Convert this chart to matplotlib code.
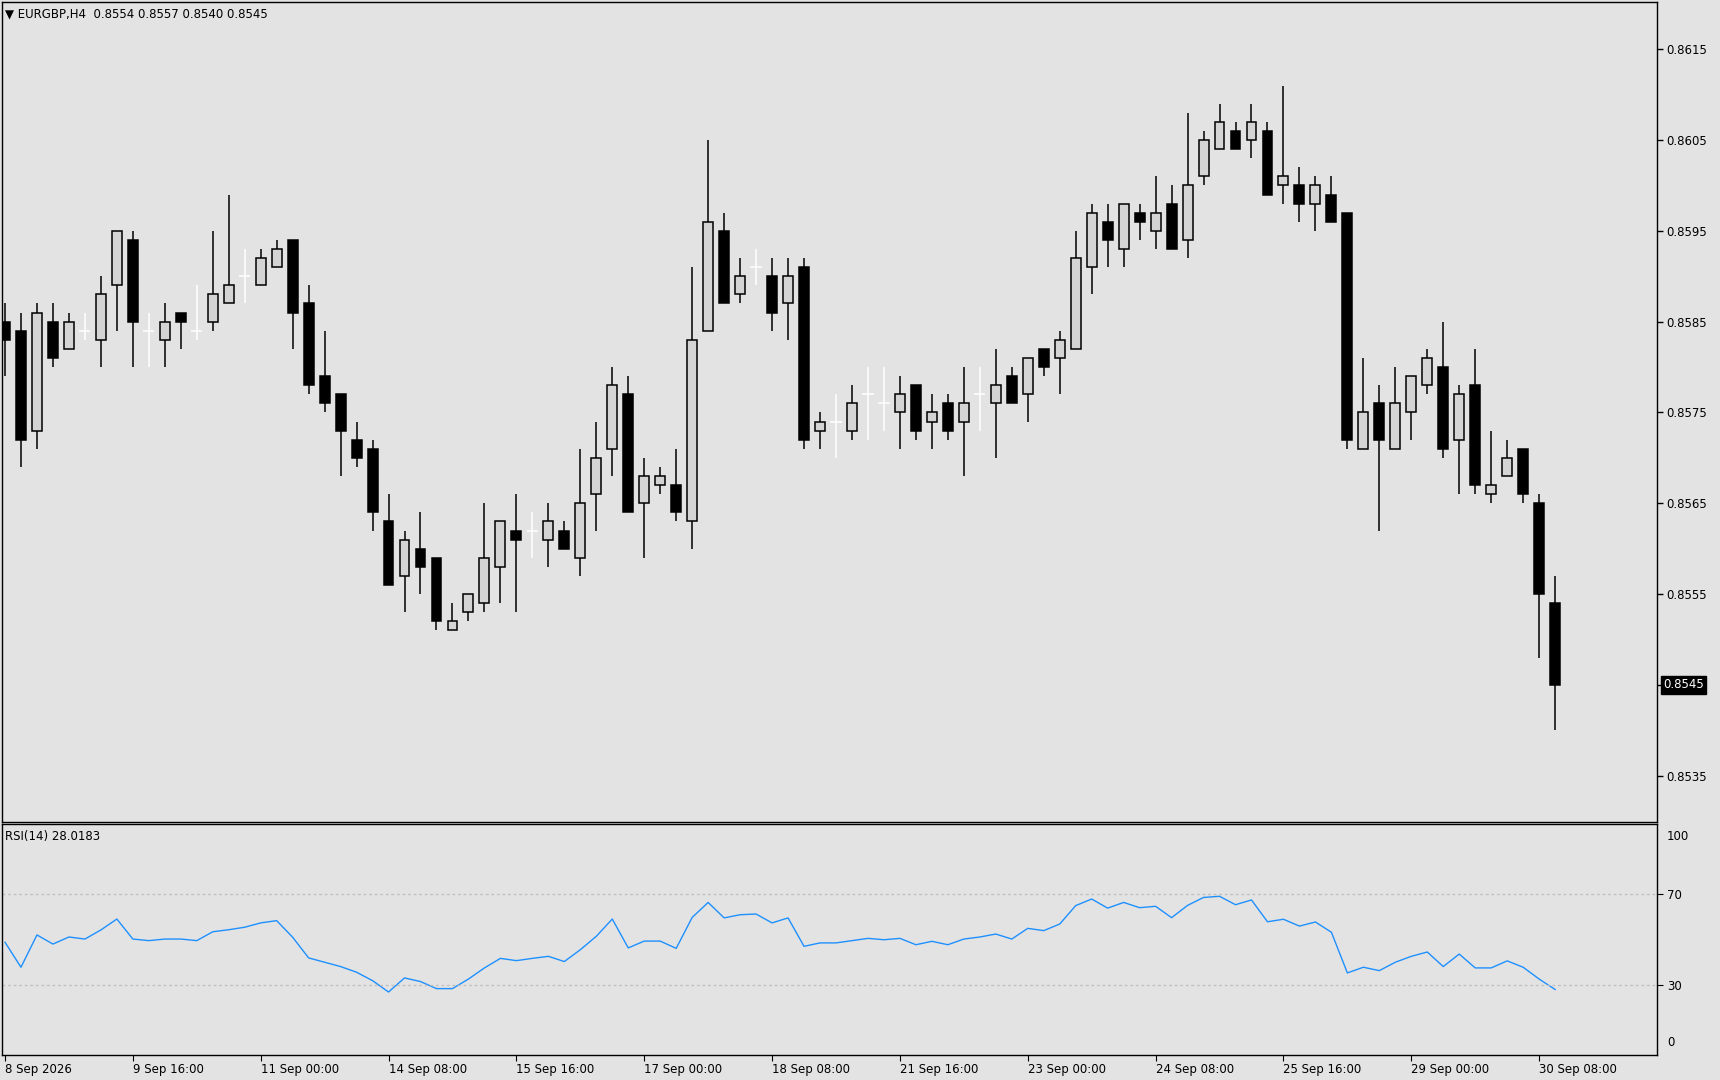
import matplotlib
matplotlib.use("Agg")
import matplotlib.pyplot as plt
import numpy as np

plt.rcParams['font.family'] = ['DejaVu Sans']

# OHLC in pips (0.0001) : value/10000
opens = [8585,8584,8573,8585,8582,8584,8583,8589,8594,8584,8583,8586,8584,8585,8587,8590,8589,8591,8594,8587,
         8579,8577,8572,8571,8563,8557,8560,8559,8551,8553,8554,8558,8562,8562,8561,8562,8559,8566,8571,8577,
         8565,8567,8567,8563,8584,8595,8588,8591,8590,8587,8591,8573,8574,8573,8577,8576,8575,8578,8574,8576,
         8574,8577,8576,8579,8577,8582,8581,8582,8591,8596,8593,8597,8595,8598,8594,8601,8604,8606,8605,8606,
         8600,8600,8598,8599,8597,8571,8576,8571,8575,8578,8580,8572,8578,8566,8568,8571,8565,8554]
highs = [8587,8586,8587,8587,8586,8586,8590,8595,8595,8586,8587,8586,8589,8595,8599,8593,8593,8594,8594,8589,
         8584,8577,8574,8572,8566,8562,8564,8559,8554,8555,8565,8563,8566,8564,8565,8563,8571,8574,8580,8579,
         8570,8569,8571,8591,8605,8597,8592,8593,8592,8592,8592,8575,8577,8578,8580,8580,8579,8578,8577,8577,
         8580,8580,8582,8580,8581,8582,8584,8595,8598,8598,8598,8598,8601,8600,8608,8606,8609,8607,8609,8607,
         8611,8602,8601,8601,8597,8581,8578,8580,8579,8582,8585,8578,8582,8573,8572,8571,8566,8557]
lows = [8579,8569,8571,8580,8582,8583,8580,8584,8580,8580,8580,8582,8583,8584,8587,8587,8589,8591,8582,8577,
        8575,8568,8569,8562,8556,8553,8555,8551,8551,8552,8553,8554,8553,8559,8558,8560,8557,8562,8568,8564,
        8559,8566,8563,8560,8584,8587,8587,8589,8584,8583,8571,8571,8570,8572,8572,8573,8571,8572,8571,8572,
        8568,8573,8570,8576,8574,8579,8577,8582,8588,8591,8591,8594,8593,8593,8592,8600,8604,8604,8603,8599,
        8598,8596,8595,8596,8571,8571,8562,8571,8572,8577,8570,8566,8566,8565,8568,8565,8548,8540]
closes = [8583,8572,8586,8581,8585,8584,8588,8595,8585,8584,8585,8585,8584,8588,8589,8590,8592,8593,8586,8578,
          8576,8573,8570,8564,8556,8561,8558,8552,8552,8555,8559,8563,8561,8562,8563,8560,8565,8570,8578,8564,
          8568,8568,8564,8583,8596,8587,8590,8591,8586,8590,8572,8574,8574,8576,8577,8576,8577,8573,8575,8573,
          8576,8577,8578,8576,8581,8580,8583,8592,8597,8594,8598,8596,8597,8593,8600,8605,8607,8604,8607,8599,
          8601,8598,8600,8596,8572,8575,8572,8576,8579,8581,8571,8577,8567,8567,8570,8566,8555,8545]

rsi = [48.8,37.8,52.0,48.0,51.1,50.2,54.2,59.0,50.2,49.5,50.2,50.2,49.5,53.4,54.3,55.4,57.3,58.3,51.0,41.9,
       40.0,38.1,35.6,31.9,26.9,33.1,31.5,28.4,28.4,32.6,37.5,41.7,40.7,41.7,42.6,40.3,45.5,51.4,59.0,46.3,
       49.3,49.3,46.1,59.7,66.3,59.5,60.9,61.2,57.3,59.5,47.0,48.5,48.5,49.5,50.5,49.9,50.5,47.7,49.2,47.7,
       50.2,51.1,52.4,50.2,54.9,53.9,56.8,64.9,67.8,63.8,66.3,64.0,64.6,59.6,65.0,68.5,69.0,65.3,67.4,57.8,
       58.9,55.9,57.7,53.2,35.3,37.8,36.3,40.0,42.6,44.5,38.1,43.6,37.5,37.5,40.6,37.8,32.6,28.02]

date_labels = ["8 Sep 2026","9 Sep 16:00","11 Sep 00:00","14 Sep 08:00","15 Sep 16:00","17 Sep 00:00",
               "18 Sep 08:00","21 Sep 16:00","23 Sep 00:00","24 Sep 08:00","25 Sep 16:00","29 Sep 00:00","30 Sep 08:00"]
price_ticks = [0.8535,0.8545,0.8555,0.8565,0.8575,0.8585,0.8595,0.8605,0.8615]

O = np.array(opens)/10000; H = np.array(highs)/10000; L = np.array(lows)/10000; C = np.array(closes)/10000
n = len(O); x = np.arange(n)

W, Hh = 1720, 1080
BG = '#e3e3e3'
fig = plt.figure(figsize=(W/100, Hh/100), dpi=100, facecolor=BG)
def ax_rect(l, t, r, b):
    return [l/W, 1-b/Hh, (r-l)/W, (b-t)/Hh]
ax = fig.add_axes(ax_rect(2, 2, 1657, 822), facecolor=BG)
ax2 = fig.add_axes(ax_rect(2, 824, 1657, 1055), facecolor=BG, sharex=ax)

xmin = -3/16 - 0.0; xmax = (1657-3)/16
FS = 8.5
for i in range(n):
    if abs(C[i]-O[i]) < 1e-9:
        ax.vlines(x[i], L[i], H[i], color='white', lw=1.1)
        ax.hlines(O[i], x[i]-0.35, x[i]+0.35, color='white', lw=1.1)
    else:
        ax.vlines(x[i], L[i], H[i], color='black', lw=1.1, zorder=2)
        up = C[i] > O[i]
        ax.bar(x[i], abs(C[i]-O[i]), bottom=min(O[i], C[i]), width=0.62,
               color='#d4d4d4' if up else 'black', edgecolor='black', linewidth=1.1, zorder=3)
ax.set_xlim(xmin, xmax)
ax.set_ylim(0.85299, 0.86202)
ax.yaxis.tick_right()
ax.set_yticks(price_ticks)
ax.set_yticklabels(['' if p == 0.8545 else f'{p:.4f}' for p in price_ticks], fontsize=FS)
ax.tick_params(axis='y', length=4, width=1, pad=3)
ax.tick_params(axis='x', bottom=False, labelbottom=False)
ax.text(1.0035, 0.8545, '0.8545', transform=ax.get_yaxis_transform(), fontsize=FS, color='white',
        va='center', ha='left', bbox=dict(facecolor='black', edgecolor='black', pad=1.5))
ax.text(0.002, 0.993, '▼ EURGBP,H4  0.8554 0.8557 0.8540 0.8545', transform=ax.transAxes,
        fontsize=FS, va='top', ha='left')

ax2.plot(x, rsi, color='#1e90ff', lw=1)
ax2.set_ylim(-0.8, 100.8)
for lev in (30, 70):
    ax2.axhline(lev, color='#c0c0c0', lw=1, ls=(0, (2, 2)))
ax2.yaxis.tick_right()
ax2.set_yticks([30, 70])
ax2.set_yticklabels(['30', '70'], fontsize=FS)
ax2.tick_params(axis='y', length=4, pad=3)
ax2.text(1.006, 0.975, '100', transform=ax2.transAxes, fontsize=FS, va='top', ha='left')
ax2.text(1.006, 0.025, '0', transform=ax2.transAxes, fontsize=FS, va='bottom', ha='left')
ax2.text(0.002, 0.975, 'RSI(14) 28.0183', transform=ax2.transAxes, fontsize=FS, va='top', ha='left')
ax2.set_xticks(np.arange(0, n, 8))
ax2.set_xticklabels(date_labels, fontsize=FS, ha='left')
ax2.tick_params(axis='x', length=4, pad=2)
for a in (ax, ax2):
    for s in a.spines.values():
        s.set_color('black'); s.set_linewidth(1)
fig.savefig('out.png', dpi=100, facecolor=BG)
